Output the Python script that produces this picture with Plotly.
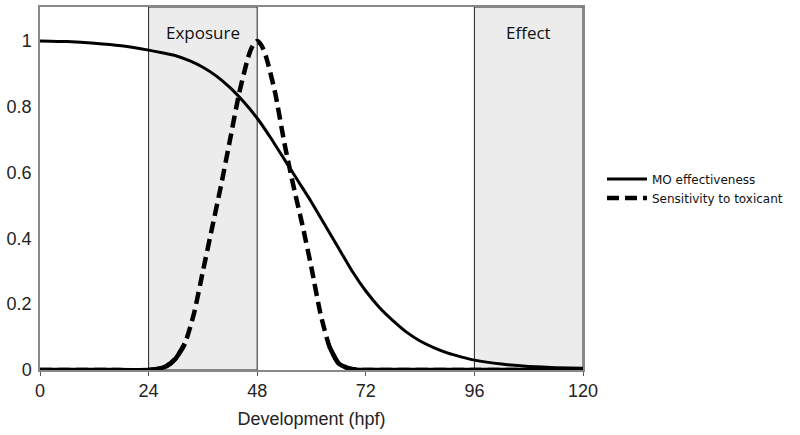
import plotly.graph_objects as go

# hours post fertilisation
hpf = [0, 6, 12, 18, 24, 27, 30, 33, 36, 39, 42, 45, 48, 51, 54, 57, 60, 63, 66, 69, 72, 75, 78, 81, 84, 87, 90,
       93, 96, 102, 108, 114, 120]
mo_effect = [1.0, 0.998, 0.993, 0.985, 0.972, 0.964, 0.955, 0.94, 0.92, 0.893, 0.858, 0.815, 0.765, 0.705, 0.64,
             0.575, 0.51, 0.44, 0.37, 0.30, 0.24, 0.19, 0.15, 0.115, 0.088, 0.068, 0.052, 0.04, 0.03, 0.018, 0.011,
             0.007, 0.005]

hpf_tox = [0, 12, 24, 26, 28, 30, 32, 34, 36, 38, 40, 42, 44, 46, 47, 48, 49, 50, 52, 54, 56, 58, 60, 62, 64, 66, 68,
           70, 72, 96, 120]
sensitivity = [0, 0, 0, 0.003, 0.012, 0.035, 0.08, 0.17, 0.30, 0.43, 0.56, 0.70, 0.84, 0.95, 0.985, 1.0, 0.985, 0.95,
               0.84, 0.69, 0.56, 0.44, 0.31, 0.17, 0.07, 0.02, 0.006, 0.001, 0, 0, 0]

exposure = [24, 48]
effect = [96, 120]

x_ticks = [0, 24, 48, 72, 96, 120]
y_ticks = [0, 0.2, 0.4, 0.6, 0.8, 1]

fig = go.Figure()

# shaded windows
for lo, hi in (exposure, effect):
    fig.add_shape(type="rect", xref="x", yref="paper", x0=lo, x1=hi, y0=0, y1=1,
                  fillcolor="#ececec", line=dict(color="#222", width=1), layer="below")

fig.add_trace(go.Scatter(x=hpf, y=mo_effect, mode="lines", name="MO effectiveness",
                         line=dict(color="black", width=3, shape="spline", smoothing=0.5)))
fig.add_trace(go.Scatter(x=hpf_tox, y=sensitivity, mode="lines", name="Sensitivity to toxicant",
                         line=dict(color="black", width=4.5, dash="12px,6px", shape="spline", smoothing=0.6)))
# tails of the dashed curve render solid in the original
tails = [v if v < 0.1 else None for v in sensitivity]
fig.add_trace(go.Scatter(x=hpf_tox, y=tails, mode="lines", showlegend=False, connectgaps=False,
                         line=dict(color="black", width=4.5, shape="spline", smoothing=0.6)))

fig.add_annotation(x=sum(exposure) / 2, y=1.0, yref="paper", yanchor="top", text="Exposure", showarrow=False,
                   yshift=-12, font=dict(family="Open Sans", size=17, color="#111"))
fig.add_annotation(x=sum(effect) / 2, y=1.0, yref="paper", yanchor="top", text="Effect", showarrow=False,
                   yshift=-12, font=dict(family="Open Sans", size=17, color="#111"))

fig.update_layout(
    width=800, height=435,
    margin=dict(l=40, r=217, t=5, b=65),
    plot_bgcolor="white", paper_bgcolor="white",
    font=dict(family="Liberation Sans, Arial", size=18, color="#222"),
    legend=dict(x=1.035, y=0.5, yanchor="middle", xanchor="left", tracegroupgap=0, itemwidth=40,
                font=dict(family="DejaVu Sans", size=12, color="#111"), bgcolor="rgba(0,0,0,0)"),
    xaxis=dict(range=[0, 120], tickvals=x_ticks, ticks="outside", ticklen=4, tickcolor="#555",
               showgrid=False, zeroline=False, showline=True, linecolor="#888", linewidth=1.5, mirror=True,
               title=dict(text="Development (hpf)", font=dict(size=18), standoff=12)),
    yaxis=dict(range=[0, 1.103], tickvals=y_ticks, ticktext=["0", "0.2", "0.4", "0.6", "0.8", "1"],
               ticks="", showgrid=False, zeroline=False, showline=True, linecolor="#888", linewidth=1.5,
               mirror=True, ticklabelstandoff=3),
)

fig.write_html("out.html", config={"displayModeBar": False},
               post_script="document.body.style.margin='0';")
